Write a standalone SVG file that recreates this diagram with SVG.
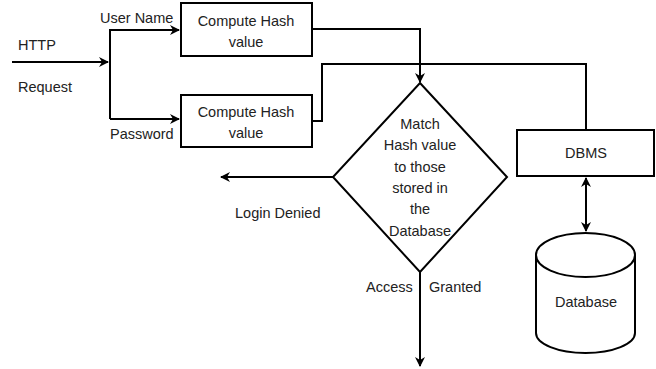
<svg xmlns="http://www.w3.org/2000/svg" width="656" height="369" viewBox="0 0 656 369">
<defs>
<marker id="ah" viewBox="0 0 10 10" refX="9" refY="5" markerWidth="5" markerHeight="5" orient="auto-start-reverse" markerUnits="strokeWidth">
<path d="M0,0 L10,5 L0,10 L3,5 z" fill="#000"/>
</marker>
</defs>
<style>
text{font-family:"Liberation Sans",Arial,sans-serif;font-size:14.5px;fill:#222}
.c{text-anchor:middle}
.shape{fill:#fff;stroke:#000;stroke-width:2}
.ln{fill:none;stroke:#000;stroke-width:2}
</style>
<rect width="656" height="369" fill="#fff"/>
<g id="connectors">
<path class="ln" d="M12,62 L108,62" marker-end="url(#ah)"/>
<path class="ln" d="M110,119 L110,30 L179,30" marker-end="url(#ah)"/>
<path class="ln" d="M110,119 L179,119" marker-end="url(#ah)"/>
<path class="ln" d="M312,29 L420,29 L420,82" marker-end="url(#ah)"/>
<path class="ln" d="M312,121 L322,121 L322,64 L586,64 L586,130"/>
<path class="ln" d="M586,178 L586,231" marker-start="url(#ah)" marker-end="url(#ah)"/>
<path class="ln" d="M333,177 L221,177" marker-end="url(#ah)"/>
<path class="ln" d="M420,272 L420,366" marker-end="url(#ah)"/>
</g>
<g id="labels">
<text x="18" y="50">HTTP</text>
<text x="18" y="92">Request</text>
<text x="100" y="23">User Name</text>
<text x="110" y="139">Password</text>
<text x="235" y="218">Login Denied</text>
<text x="366" y="292">Access</text>
<text x="429" y="292">Granted</text>
</g>
<g id="hash1">
<rect class="shape" x="181" y="3" width="131" height="53"/>
<text class="c" x="246" y="26">Compute Hash</text>
<text class="c" x="246" y="47">value</text>
</g>
<g id="hash2">
<rect class="shape" x="181" y="95" width="131" height="52"/>
<text class="c" x="246" y="117">Compute Hash</text>
<text class="c" x="246" y="138">value</text>
</g>
<g id="match">
<polygon class="shape" points="420,83 507,177 420,272 333,177"/>
<text class="c" x="420" y="129">Match</text>
<text class="c" x="420" y="150">Hash value</text>
<text class="c" x="420" y="172">to those</text>
<text class="c" x="420" y="193">stored in</text>
<text class="c" x="420" y="214">the</text>
<text class="c" x="420" y="236">Database</text>
</g>
<g id="dbms">
<rect class="shape" x="517" y="130" width="137" height="46"/>
<text class="c" x="586" y="158">DBMS</text>
</g>
<g id="database">
<path class="shape" d="M536,255 L536,333 A49.5,20 0 0 0 635,333 L635,255"/>
<ellipse class="shape" cx="585.5" cy="255" rx="49.5" ry="22"/>
<text class="c" x="586" y="307">Database</text>
</g>
</svg>
